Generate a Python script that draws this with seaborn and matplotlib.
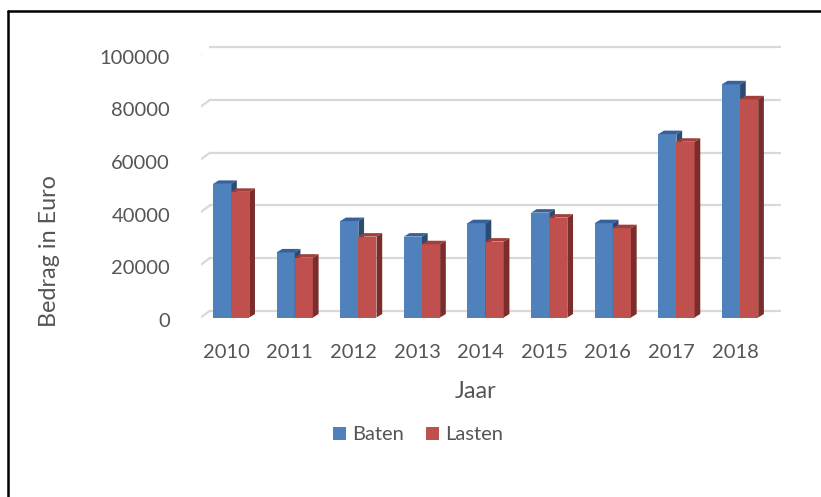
import matplotlib
matplotlib.use("Agg")
import matplotlib.pyplot as plt
import matplotlib.transforms as mtransforms
from matplotlib.patches import Polygon, Patch
from matplotlib.lines import Line2D
import pandas as pd
import seaborn as sns

# data
jaren = ["2010", "2011", "2012", "2013", "2014", "2015", "2016", "2017", "2018"]
baten = [50700, 24700, 36600, 30700, 35800, 39800, 35800, 69600, 88500]
lasten = [47700, 22700, 30700, 27800, 28800, 37900, 33900, 66700, 82800]
y_ticks = [0, 20000, 40000, 60000, 80000, 100000]
y_labels = ["0", "20000", "40000", "60000", "80000", "100000"]
series = ["Baten", "Lasten"]

front_cols = ["#4F81BD", "#C0504D"]
top_cols = ["#37619A", "#A03F3C"]
side_cols = ["#2B4B73", "#7A2D2B"]
grey_txt = "#555555"
grid_col = "#D9D9D9"

df = pd.DataFrame({
    "Jaar": jaren * 2,
    "Bedrag": baten + lasten,
    "Soort": ["Baten"] * len(jaren) + ["Lasten"] * len(jaren),
})

sns.set_style("white")
plt.rcParams["font.family"] = ["Lato", "DejaVu Sans"]
fs = 14.5
fs_title = 16.8

fig = plt.figure(figsize=(8.21, 4.97), dpi=100)
W, H = 821, 497
ax = fig.add_axes([200.6 / W, 1 - 317.5 / H, 570 / W, 263.5 / H])

sns.barplot(data=df, x="Jaar", y="Bedrag", hue="Soort", hue_order=series,
            palette=front_cols, width=0.57, gap=0, saturation=1,
            edgecolor="none", linewidth=0, legend=False, ax=ax)

ax.set_xlim(-0.48, 8.48)
ax.set_ylim(0, 100000)
sns.despine(ax=ax, left=True, bottom=True)
ax.set_xlabel("")
ax.set_ylabel("")
ax.set_yticks(y_ticks)
ax.set_yticklabels(y_labels)
ax.tick_params(axis="y", length=0, pad=22, labelsize=fs, labelcolor=grey_txt)
ax.tick_params(axis="x", length=0, pad=19, labelsize=fs, labelcolor=grey_txt)
ax.patch.set_alpha(0)

px = 1 / fig.dpi
for lbl in ax.get_yticklabels():
    lbl.set_transform(lbl.get_transform() + mtransforms.ScaledTranslation(0, -2.5 * px, fig.dpi_scale_trans))
for lbl in ax.get_xticklabels():
    lbl.set_transform(lbl.get_transform() + mtransforms.ScaledTranslation(-5 * px, 0, fig.dpi_scale_trans))

# back wall gridlines and left wall edges (pseudo 3D)
back = ax.transData + mtransforms.ScaledTranslation(9.4 * px, 6.8 * px, fig.dpi_scale_trans)
front = ax.transData + mtransforms.ScaledTranslation(-7.6 * px, -5.5 * px, fig.dpi_scale_trans)
x0, x1 = ax.get_xlim()
for v in y_ticks:
    ax.plot([x0, x1], [v, v], transform=back, color=grid_col, lw=1.6,
            clip_on=False, zorder=0.5)
    a = front.transform((x0, v))
    b = back.transform((x0, v))
    ax.add_line(Line2D([a[0], b[0]], [a[1], b[1]], transform=mtransforms.IdentityTransform(),
                       color=grid_col, lw=1.6, zorder=0.5))

# depth faces for bars
dx, dy = 5.7, 3.5
for k, cont in enumerate(ax.containers):
    for p in cont.patches:
        p.set_zorder(2 + k * 0.2)
        xa, ya = ax.transData.transform((p.get_x(), p.get_y()))
        xb, yb = ax.transData.transform((p.get_x() + p.get_width(), p.get_y() + p.get_height()))
        top = [(xa, yb), (xb, yb), (xb + dx, yb + dy), (xa + dx, yb + dy)]
        side = [(xb, ya), (xb + dx, ya + dy), (xb + dx, yb + dy), (xb, yb)]
        for pts, col in ((top, top_cols[k]), (side, side_cols[k])):
            ax.add_patch(Polygon(pts, closed=True, facecolor=col, edgecolor="none",
                                 transform=mtransforms.IdentityTransform(),
                                 zorder=2.1 + k * 0.2))

fig.text(50 / W, 1 - 251 / H, "Bedrag in Euro", rotation=90, ha="center", va="center",
         fontsize=fs_title, color=grey_txt)
fig.text(476 / W, 1 - 392 / H, "Jaar", ha="center", va="center", fontsize=fs_title, color=grey_txt)

handles = [Patch(facecolor=c, edgecolor="none", label=s) for c, s in zip(front_cols, series)]
fig.legend(handles=handles, loc="center", bbox_to_anchor=(418 / W, 1 - 435 / H), ncol=2,
           frameon=False, fontsize=fs, labelcolor=grey_txt, handlelength=0.65,
           handleheight=0.65, handletextpad=0.3, columnspacing=1.1)

# chart border (top and left visible)
fig.add_artist(Line2D([8 / W, 8 / W], [0, 1 - 11 / H], color="black", lw=1.8))
fig.add_artist(Line2D([8 / W, 1], [1 - 11 / H, 1 - 11 / H], color="black", lw=1.8))

fig.savefig("out.png", dpi=100)
